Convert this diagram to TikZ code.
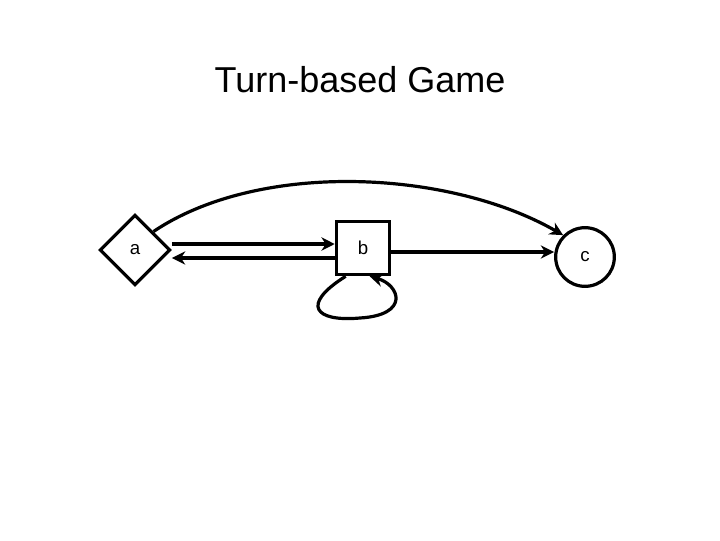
\documentclass[tikz,border=0pt]{standalone}
\usepackage{fontspec}
\setmainfont{Liberation Sans}
\usetikzlibrary{shapes.geometric,arrows.meta}
\tikzstyle{state}=[draw, line width=2.4pt, font=\fontsize{14}{16}\selectfont]
\tikzstyle{move}=[line width=2.4pt, -{Stealth[length=10pt,width=10pt]}]
\begin{document}
\begin{tikzpicture}[x=0.75pt, y=-0.75pt]
    \useasboundingbox (0,0) rectangle (720,540);
    % title
    \node[font=\fontsize{27}{32}\selectfont] (title) at (360,80) {Turn-based Game};

    % states
    \node[state, diamond, minimum width=53pt, minimum height=53pt, inner sep=0pt] (a) at (135,250) {a};
    \node[state, rectangle, minimum width=40pt, minimum height=40pt] (b) at (363,248) {b};
    \node[state, circle, minimum size=44pt, inner sep=0pt] (c) at (585,257) {c};

    % moves
    \draw[move] ([yshift=4.5pt]a.east) -- ([yshift=3pt]b.west);
    \draw[move] ([yshift=-7.5pt]b.west) -- ([yshift=-6pt]a.east);
    \draw[move] ([yshift=-3pt]b.east) -- ([yshift=3.75pt]c.west);
    \draw[move] (a.north east) .. controls (260,160) and (450,170) .. (c.north west);
    \draw[move] ([xshift=-13pt]b.south) .. controls (300,305) and (315,322) .. (360,318)
      .. controls (410,315) and (400,285) .. ([xshift=5pt]b.south);
\end{tikzpicture}
\end{document}
